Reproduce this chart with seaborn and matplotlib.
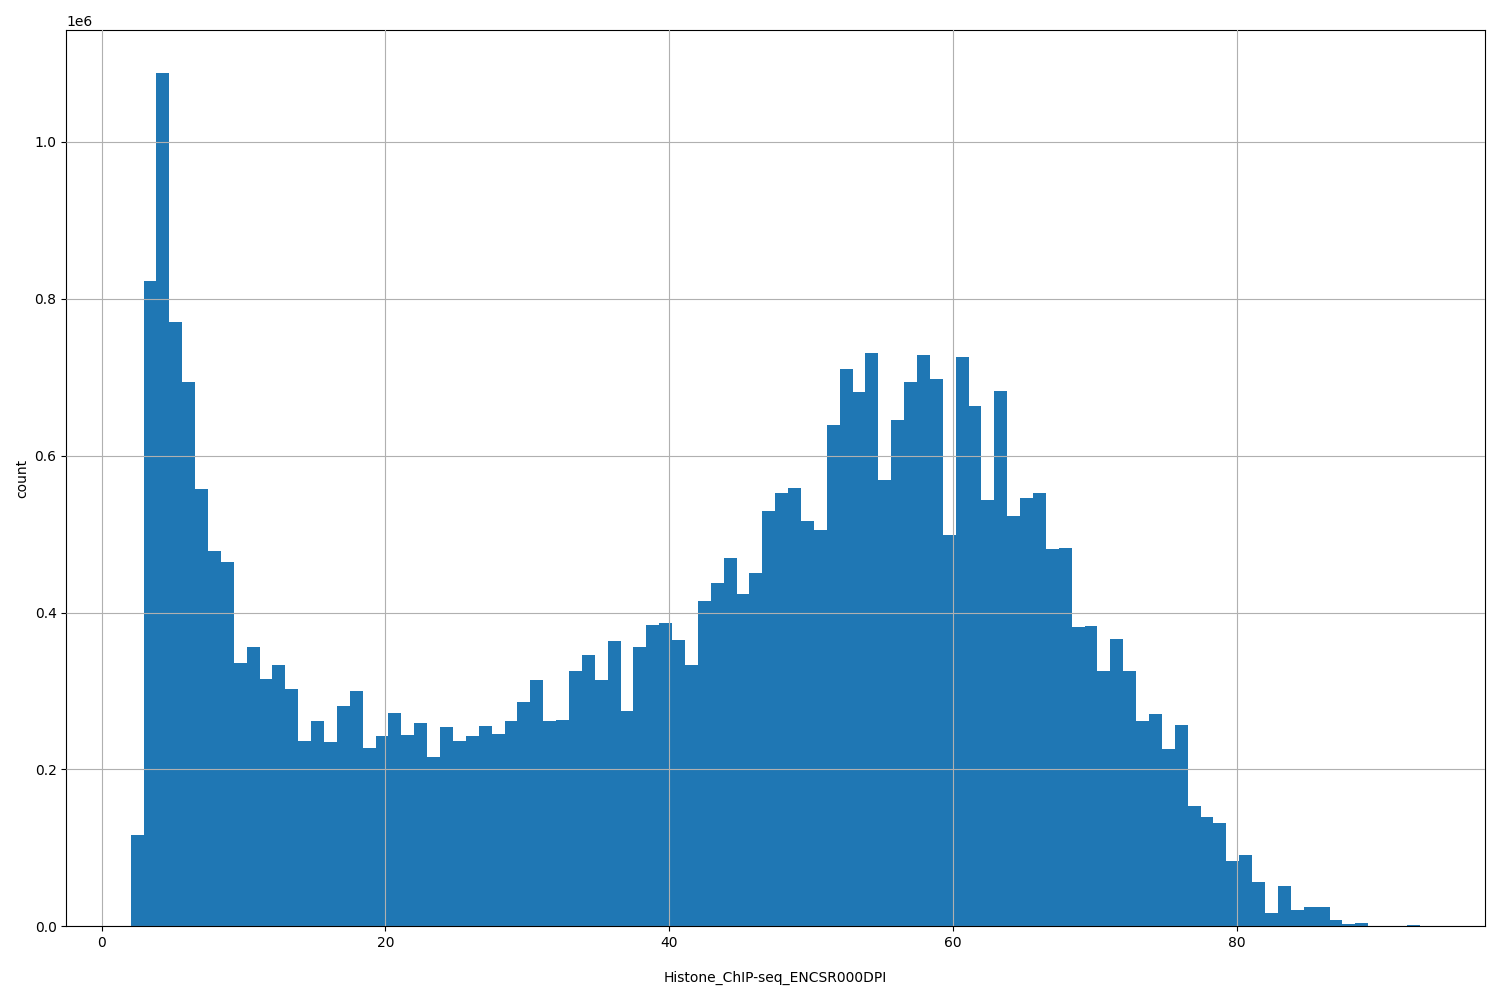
import numpy as np
import pandas as pd
import matplotlib
matplotlib.use("Agg")
import matplotlib.pyplot as plt
import seaborn as sns

# histogram: 100 equal bins between x_min and x_max, counts in units of 1e6
x_min = 2.04
x_max = 92.9
counts_m = [
    0.117, 0.823, 1.088, 0.770, 0.694, 0.557, 0.478, 0.464, 0.336, 0.356,
    0.315, 0.333, 0.302, 0.236, 0.262, 0.235, 0.281, 0.300, 0.227, 0.243,
    0.272, 0.244, 0.259, 0.216, 0.254, 0.236, 0.243, 0.255, 0.245, 0.262,
    0.286, 0.314, 0.262, 0.263, 0.326, 0.346, 0.314, 0.364, 0.275, 0.356,
    0.384, 0.387, 0.365, 0.333, 0.415, 0.438, 0.469, 0.424, 0.451, 0.529,
    0.553, 0.559, 0.517, 0.505, 0.639, 0.710, 0.681, 0.731, 0.569, 0.645,
    0.694, 0.728, 0.698, 0.499, 0.726, 0.663, 0.543, 0.682, 0.523, 0.546,
    0.553, 0.481, 0.482, 0.382, 0.383, 0.326, 0.366, 0.325, 0.262, 0.271,
    0.226, 0.256, 0.153, 0.139, 0.132, 0.083, 0.091, 0.056, 0.017, 0.051,
    0.021, 0.025, 0.024, 0.008, 0.003, 0.004, 0.001, 0.0, 0.0, 0.0015,
]

edges = np.linspace(x_min, x_max, len(counts_m) + 1)
df = pd.DataFrame({
    "value": (edges[:-1] + edges[1:]) / 2,
    "count": np.array(counts_m) * 1e6,
})

fig, ax = plt.subplots(figsize=(15, 10), dpi=100)
sns.histplot(
    data=df, x="value", weights="count", bins=len(counts_m),
    binrange=(x_min, x_max), ax=ax,
    color="#1f77b4", alpha=1.0, edgecolor="none", linewidth=0,
)
ax.grid(True, color="#b0b0b0", linewidth=0.8)
ax.set_axisbelow(False)
ax.set_xlabel("Histone_ChIP-seq_ENCSR000DPI", labelpad=15)
ax.set_ylabel("count")
ax.set_xlim(-2.5, 97.5)

plt.tight_layout()
plt.savefig("out.png", dpi=100)
plt.close(fig)
